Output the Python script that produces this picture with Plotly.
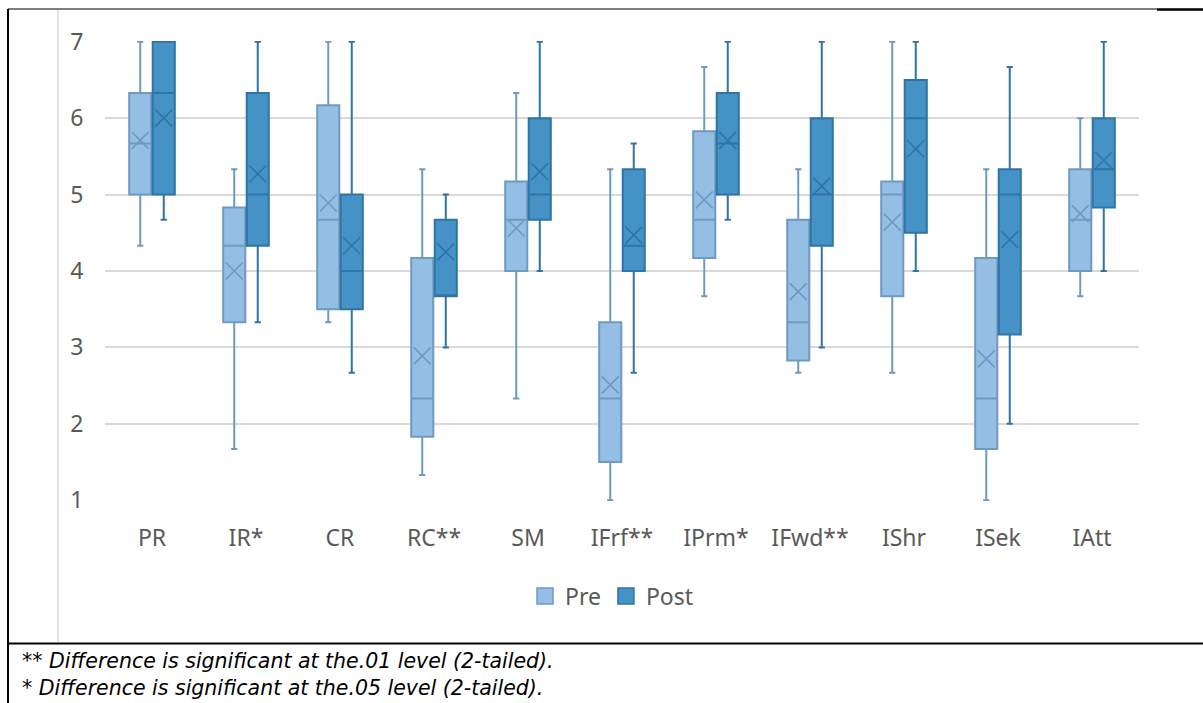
import plotly.graph_objects as go

# Scale items (starred labels mark significant pre/post differences)
categories = ["PR", "IR*", "CR", "RC**", "SM", "IFrf**", "IPrm*", "IFwd**", "IShr", "ISek", "IAtt"]

# Pre-test five-number summaries and means
pre_min    = [4.33, 1.67, 3.33, 1.33, 2.33, 1.00, 3.67, 2.67, 2.67, 1.00, 3.67]
pre_q1     = [5.00, 3.33, 3.50, 1.83, 4.00, 1.50, 4.17, 2.83, 3.67, 1.67, 4.00]
pre_median = [5.67, 4.33, 4.67, 2.33, 4.67, 2.33, 4.67, 3.33, 5.00, 2.33, 4.67]
pre_q3     = [6.33, 4.83, 6.17, 4.17, 5.17, 3.33, 5.83, 4.67, 5.17, 4.17, 5.33]
pre_max    = [7.00, 5.33, 7.00, 5.33, 6.33, 5.33, 6.67, 5.33, 7.00, 5.33, 6.00]
pre_mean   = [5.71, 4.00, 4.89, 2.89, 4.56, 2.51, 4.93, 3.73, 4.64, 2.85, 4.75]

# Post-test five-number summaries and means
post_min    = [4.67, 3.33, 2.67, 3.00, 4.00, 2.67, 4.67, 3.00, 4.00, 2.00, 4.00]
post_q1     = [5.00, 4.33, 3.50, 3.67, 4.67, 4.00, 5.00, 4.33, 4.50, 3.17, 4.83]
post_median = [6.33, 5.00, 4.00, 3.67, 5.00, 4.33, 5.67, 5.00, 6.00, 5.00, 5.33]
post_q3     = [7.00, 6.33, 5.00, 4.67, 6.00, 5.33, 6.33, 6.00, 6.50, 5.33, 6.00]
post_max    = [7.00, 7.00, 7.00, 5.00, 7.00, 5.67, 7.00, 7.00, 7.00, 6.67, 7.00]
post_mean   = [6.00, 5.27, 4.33, 4.25, 5.30, 4.47, 5.71, 5.11, 5.60, 4.41, 5.45]

y_ticks = [1, 2, 3, 4, 5, 6, 7]
footnotes = [
    "** Difference is significant at the.01 level (2-tailed).",
    "* Difference is significant at the.05 level (2-tailed).",
]

PRE_FILL, PRE_LINE = "#95BEE4", "#6E9AC2"
POST_FILL, POST_LINE = "#4592C6", "#2F74A3"
BOX_W = 0.235
OFFSET = 0.125
FONT = "Noto Sans"

idx = list(range(len(categories)))
pre_x = [i - OFFSET for i in idx]
post_x = [i + OFFSET for i in idx]

fig = go.Figure()

for name, xs, q1, med, q3, lo, hi, fill, line in [
    ("Pre", pre_x, pre_q1, pre_median, pre_q3, pre_min, pre_max, PRE_FILL, PRE_LINE),
    ("Post", post_x, post_q1, post_median, post_q3, post_min, post_max, POST_FILL, POST_LINE),
]:
    fig.add_trace(go.Box(
        name=name, x=xs, q1=q1, median=med, q3=q3,
        lowerfence=lo, upperfence=hi,
        width=BOX_W, whiskerwidth=0.28,
        fillcolor=fill, line=dict(color=line, width=2),
        boxpoints=False, hoverinfo="skip", showlegend=False,
    ))

# Mean markers drawn as thin crosses
for xs, means, line in [(pre_x, pre_mean, PRE_LINE), (post_x, post_mean, POST_LINE)]:
    fig.add_trace(go.Scatter(
        x=xs, y=means, mode="markers", showlegend=False, hoverinfo="skip",
        marker=dict(symbol="x-thin", size=17, line=dict(color=line, width=1.6)),
    ))

# Legend entries as filled squares
for name, fill, line in [("Pre", PRE_FILL, PRE_LINE), ("Post", POST_FILL, POST_LINE)]:
    fig.add_trace(go.Scatter(
        x=[None], y=[None], mode="markers", name=name, hoverinfo="skip",
        marker=dict(symbol="square", size=18, color=fill, line=dict(color=line, width=1.5)),
    ))

# Page frame around the chart (pixel positions converted to paper coords)
L, T, W, H = 105, 41, 1034, 460
def px(x):
    return (x - L) / W
def py(y):
    return (T + H - y) / H

frame = [
    (px(8), py(9), px(1157), py(9), "black", 1.2),
    (px(1157), py(9.5), px(1203), py(9.5), "black", 2.5),
    (px(8), py(9), px(8), py(703), "black", 2),
    (px(8), py(643.5), px(1203), py(643.5), "black", 2.2),
    (px(58), py(10), px(58), py(642), "#C8C8C8", 1),
]
for x0, y0, x1, y1, c, w in frame:
    fig.add_shape(type="line", xref="paper", yref="paper", x0=x0, y0=y0, x1=x1, y1=y1,
                  line=dict(color=c, width=w), layer="above")

# Significance notes below the frame
fig.add_annotation(
    text="<br>".join(footnotes), xref="paper", yref="paper", x=px(20), y=py(674),
    xanchor="left", yanchor="middle", align="left", showarrow=False,
    font=dict(family="DejaVu Sans", size=20.5, color="black", style="italic"),
)

fig.update_layout(
    width=1203, height=703,
    margin=dict(l=L, r=1203 - L - W, t=T, b=703 - T - H),
    paper_bgcolor="white", plot_bgcolor="white",
    font=dict(family=FONT, color="#595959"),
    showlegend=True,
    legend=dict(orientation="h", x=px(612), xanchor="center", y=py(596), yanchor="middle",
                font=dict(size=23, color="#595959"), itemwidth=30, tracegroupgap=0),
    xaxis=dict(
        range=[-0.5, 10.5], tickvals=idx, ticktext=categories,
        showgrid=False, zeroline=False, showline=False,
        ticks="outside", ticklen=16, tickcolor="rgba(0,0,0,0)",
        tickfont=dict(size=23, color="#595959"),
    ),
    yaxis=dict(
        range=[0.99, 7.01], tickvals=y_ticks,
        showgrid=True, gridcolor="#D9D9D9", gridwidth=1.6,
        zeroline=False, showline=False,
        ticks="outside", ticklen=16, tickcolor="rgba(0,0,0,0)",
        tickfont=dict(size=23, color="#595959"),
    ),
)

fig.write_html("out.html")
